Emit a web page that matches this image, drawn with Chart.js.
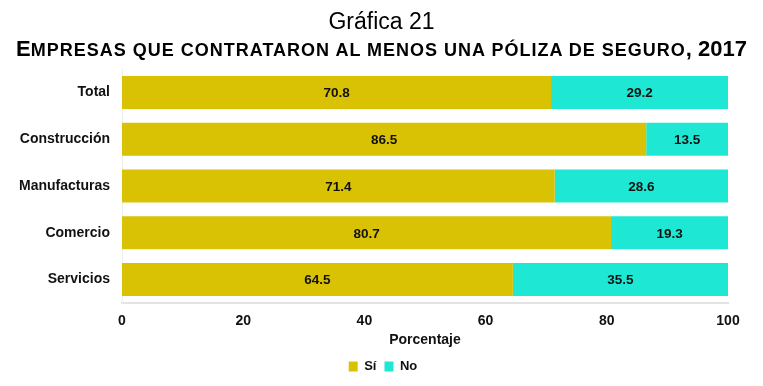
<!DOCTYPE html>
<html>
<head>
<meta charset="utf-8">
<script src="https://cdn.jsdelivr.net/npm/chart.js@4"></script>
<style>
  html,body{margin:0;padding:0;background:#fff;}
  #wrap{position:relative;width:763px;height:386px;overflow:hidden;}
  #t1{position:absolute;left:0;top:8px;width:763px;text-align:center;font:23px "Liberation Sans",Arial,sans-serif;color:#000;line-height:26px;}
  #t2{position:absolute;left:0;top:36px;width:763px;text-align:center;font:bold 22px "Liberation Sans",Arial,sans-serif;color:#000;line-height:26px;white-space:nowrap;}
  #t2 .s{font-size:18px;letter-spacing:1px;}
  #c{position:absolute;left:0;top:0;}
</style>
</head>
<body>
<div id="wrap">
  <canvas id="c" width="763" height="386"></canvas>
  <div id="t1">Gráfica 21</div>
  <div id="t2">E<span class="s">MPRESAS QUE CONTRATARON AL MENOS UNA PÓLIZA DE SEGURO</span>, 2017</div>
</div>
<script>
const categories = ["Total", "Construcción", "Manufacturas", "Comercio", "Servicios"];
const siValues = [70.8, 86.5, 71.4, 80.7, 64.5];
const noValues = [29.2, 13.5, 28.6, 19.3, 35.5];
const xTicks = [0, 20, 40, 60, 80, 100];
const seriesNames = ["Sí", "No"];

const FONT = '"Liberation Sans", Arial, sans-serif';

const labelPlugin = {
  id: 'barLabels',
  afterDatasetsDraw(chart) {
    const ctx = chart.ctx;
    ctx.save();
    ctx.font = 'bold 13.5px ' + FONT;
    ctx.fillStyle = '#111';
    ctx.textAlign = 'center';
    ctx.textBaseline = 'middle';
    chart.data.datasets.forEach((ds, di) => {
      const meta = chart.getDatasetMeta(di);
      meta.data.forEach((bar, i) => {
        const x = (bar.x + bar.base) / 2;
        ctx.fillText(ds.data[i].toFixed(1), x, bar.y + 1);
      });
    });
    ctx.restore();
  }
};

const legendShift = {
  id: 'legendShift',
  afterLayout(chart) {
    if (chart.legend) { chart.legend.left += 19; chart.legend.right += 19; }
  }
};

new Chart(document.getElementById('c'), {
  type: 'bar',
  data: {
    labels: categories,
    datasets: [
      { label: seriesNames[0], data: siValues, backgroundColor: '#D9C204', borderWidth: 0 },
      { label: seriesNames[1], data: noValues, backgroundColor: '#1EE8D3', borderWidth: 0 }
    ]
  },
  options: {
    indexAxis: 'y',
    responsive: false,
    animation: false,
    layout: { padding: { top: 69, right: 35, left: 0, bottom: 3 } },
    datasets: { bar: { categoryPercentage: 0.706, barPercentage: 1 } },
    scales: {
      x: {
        stacked: true, min: 0, max: 100,
        afterBuildTicks(scale) { scale.ticks = xTicks.map(v => ({ value: v })); },
        afterFit(scale) { scale.height = 49; },
        grid: { display: false, drawTicks: false },
        border: { display: true, color: '#e3e3e3', width: 2 },
        ticks: { color: '#111', padding: 10, font: { family: FONT, size: 14, weight: 'bold' } },
        title: { display: true, text: 'Porcentaje', color: '#111', padding: { top: 2, bottom: 3 }, font: { family: FONT, size: 14, weight: 'bold' } }
      },
      y: {
        stacked: true,
        afterFit(scale) { scale.width = 122; },
        grid: { display: false, drawTicks: false },
        border: { display: true, color: '#eeeeee', width: 1 },
        ticks: { color: '#111', padding: 12, font: { family: FONT, size: 14, weight: 'bold' } }
      }
    },
    plugins: {
      title: { display: false },
      tooltip: { enabled: false },
      legend: {
        position: 'bottom',
        labels: {
          boxWidth: 9, boxHeight: 10, padding: 8, color: '#111',
          font: { family: FONT, size: 13, weight: 'bold' }
        }
      }
    }
  },
  plugins: [labelPlugin, legendShift]
});
</script>
</body>
</html>
